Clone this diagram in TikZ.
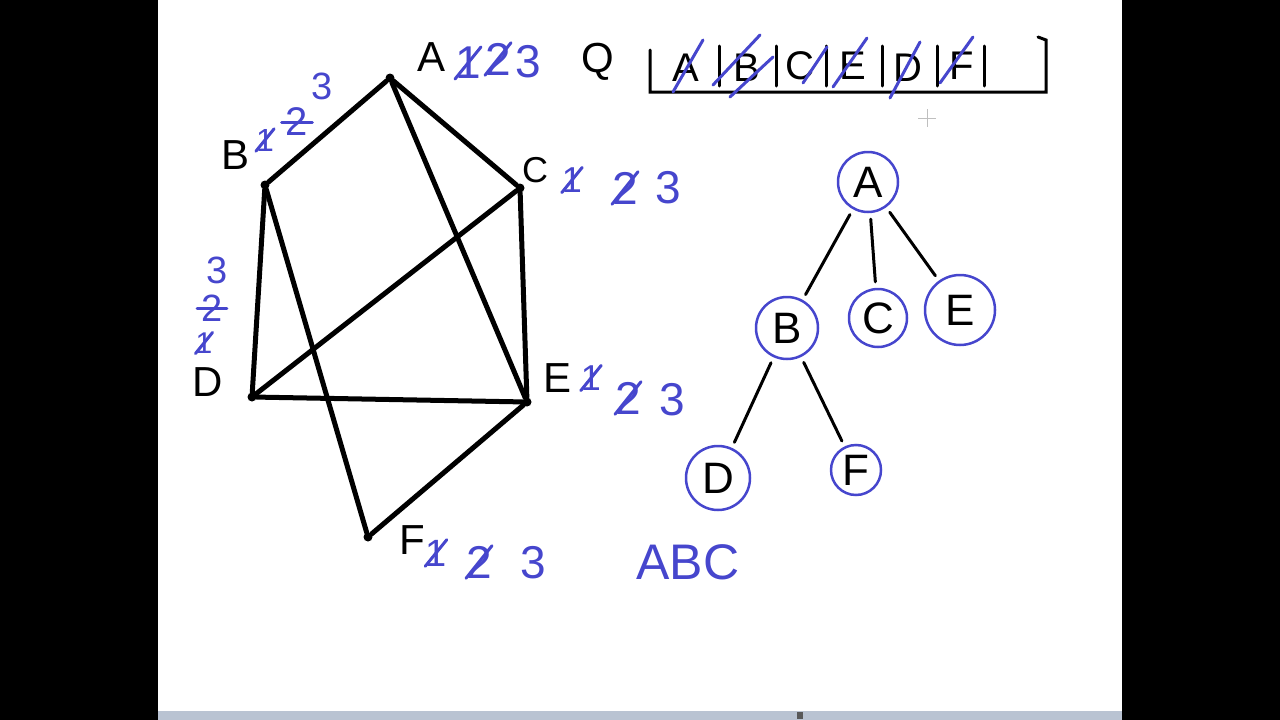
\documentclass[tikz,border=0pt]{standalone}
\usepackage{fontspec}
\setmainfont{Liberation Sans}
\definecolor{ink}{RGB}{70,70,205}
\definecolor{strip}{RGB}{185,195,210}
\begin{document}
\begin{tikzpicture}[x=1pt,y=-1pt,
  vert/.style={circle,fill=black,inner sep=0pt,minimum size=9pt},
  gedge/.style={line width=5pt,line cap=round,line join=round},
  glabel/.style={font=\fontsize{42}{42}\selectfont,inner sep=0pt},
  num/.style={text=ink,font=\fontsize{46}{46}\selectfont,inner sep=0pt},
  strike/.style={ink,line width=3pt,line cap=round},
  tnode/.style={circle,draw=ink,line width=2.5pt,font=\fontsize{44}{44}\selectfont,inner sep=0pt},
  tedge/.style={line width=3pt,line cap=round,shorten >=6pt,shorten <=6pt},
  qitem/.style={font=\fontsize{40}{40}\selectfont,inner sep=0pt},
  qline/.style={line width=3pt,line cap=round}]
\useasboundingbox (0,0) rectangle (1280,720);
\fill[black] (0,0) rectangle (158,720);
\fill[black] (1122,0) rectangle (1280,720);
\fill[strip] (158,711) rectangle (1122,720);
\fill[gray!70!black] (797,712) rectangle (803,719);
% cursor
\draw[gray!50,line width=0.8pt] (918,118) -- (936,118) (927,109) -- (927,127);

% graph vertices
\node[vert] (gA) at (390,78) {};
\node[vert] (gB) at (265,185) {};
\node[vert] (gC) at (520,188) {};
\node[vert] (gD) at (252,397) {};
\node[vert] (gE) at (527,402) {};
\node[vert] (gF) at (368,537) {};
\draw[gedge] (gA) -- (gB);
\draw[gedge] (gA) -- (gC);
\draw[gedge] (gA) -- (gE);
\draw[gedge] (gB) -- (gD);
\draw[gedge] (gB) -- (gF);
\draw[gedge] (gC) -- (gD);
\draw[gedge] (gC) -- (gE);
\draw[gedge] (gD) -- (gE);
\draw[gedge] (gE) -- (gF);

% vertex labels
\node[glabel] (lA) at (432,57) {A};
\node[glabel] (lB) at (236,155) {B};
\node[glabel,font=\fontsize{36}{36}\selectfont] (lC) at (535,170) {C};
\node[glabel] (lD) at (208,382) {D};
\node[glabel] (lE) at (558,378) {E};
\node[glabel] (lF) at (412,540) {F};

% counters
\node[num] (a1) at (468,63) {1};
\node[num] (a2) at (498,59) {2};
\node[num] (a3) at (528,62) {3};
\draw[strike] (a1.south west) -- (a1.north east);
\draw[strike] (a2.south west) -- (a2.north east);

\node[num,font=\fontsize{32}{32}\selectfont] (b1) at (265,140) {1};
\node[num,font=\fontsize{40}{40}\selectfont] (b2) at (297,122) {2};
\node[num,font=\fontsize{38}{38}\selectfont] (b3) at (322,86) {3};
\draw[strike] (b1.south west) -- (b1.north east);
\draw[strike] ([xshift=-4pt]b2.west) -- ([xshift=4pt]b2.east);

\node[num,font=\fontsize{36}{36}\selectfont] (c1) at (572,180) {1};
\node[num] (c2) at (625,188) {2};
\node[num] (c3) at (668,188) {3};
\draw[strike] (c1.south west) -- (c1.north east);
\draw[strike] (c2.south west) -- (c2.north east);

\node[num,font=\fontsize{30}{30}\selectfont] (d1) at (204,343) {1};
\node[num,font=\fontsize{38}{38}\selectfont] (d2) at (212,308) {2};
\node[num,font=\fontsize{38}{38}\selectfont] (d3) at (217,270) {3};
\draw[strike] (d1.south west) -- (d1.north east);
\draw[strike] ([xshift=-4pt]d2.west) -- ([xshift=4pt]d2.east);

\node[num,font=\fontsize{36}{36}\selectfont] (e1) at (591,378) {1};
\node[num] (e2) at (628,398) {2};
\node[num] (e3) at (672,400) {3};
\draw[strike] (e1.south west) -- (e1.north east);
\draw[strike] (e2.south west) -- (e2.north east);

\node[num,font=\fontsize{38}{38}\selectfont] (f1) at (436,553) {1};
\node[num] (f2) at (479,562) {2};
\node[num] (f3) at (533,563) {3};
\draw[strike] (f1.south west) -- (f1.north east);
\draw[strike] (f2.south west) -- (f2.north east);

\node[num,font=\fontsize{50}{50}\selectfont] (abc) at (688,562) {ABC};

% queue
\node[glabel] (q) at (598,62) {Q};
\coordinate (qtl) at (650,50);
\coordinate (qbl) at (650,92);
\coordinate (qbr) at (1046,92);
\coordinate (qtr) at (1046,40);
\coordinate (qhk) at (1038,37);
\draw[qline] (qtl) -- (qbl) -- (qbr) -- (qtr) -- (qhk);
\node[qitem] (qA) at (686,68) {A};
\node[qitem] (qB) at (747,68) {B};
\node[qitem] (qC) at (800,66) {C};
\node[qitem] (qE) at (853,66) {E};
\node[qitem] (qD) at (908,68) {D};
\node[qitem] (qF) at (962,66) {F};
\foreach \x in {719,776,826,882,937,984}{
  \draw[qline] (\x,46) -- (\x,86);
}
\draw[strike] (673,92) -- (703,40);
\draw[strike] (713,85) -- (760,35);
\draw[strike] (730,97) -- (773,57);
\draw[strike] (803,83) -- (827,47);
\draw[strike] (833,87) -- (867,38);
\draw[strike] (890,98) -- (920,42);
\draw[strike] (940,83) -- (973,37);

% BFS tree
\node[tnode,minimum size=60pt] (tA) at (868,182) {A};
\node[tnode,minimum size=62pt] (tB) at (787,328) {B};
\node[tnode,minimum size=58pt] (tC) at (878,318) {C};
\node[tnode,minimum size=70pt] (tE) at (960,310) {E};
\node[tnode,minimum size=64pt] (tD) at (718,478) {D};
\node[tnode,minimum size=50pt] (tF) at (856,470) {F};
\draw[tedge] (tA) -- (tB);
\draw[tedge] (tA) -- (tC);
\draw[tedge] (tA) -- (tE);
\draw[tedge] (tB) -- (tD);
\draw[tedge] (tB) -- (tF);
\end{tikzpicture}
\end{document}
